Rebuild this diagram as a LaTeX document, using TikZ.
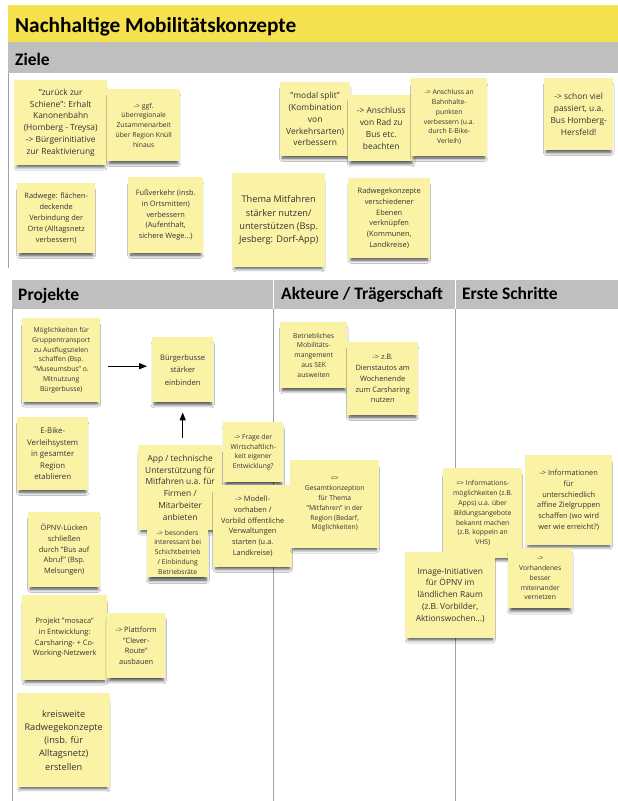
\documentclass[tikz,border=0pt]{standalone}
\usepackage{fontspec}
\setmainfont{Open Sans}
\newfontfamily\hdfont{Carlito}
\usetikzlibrary{shadows.blur,arrows.meta}
\definecolor{stick}{HTML}{FAF3A6}
\definecolor{titley}{HTML}{F5E14E}
\definecolor{bandg}{HTML}{BFBFBF}
\definecolor{txt}{HTML}{333333}
\definecolor{linec}{HTML}{A0A0A0}
\begin{document}
\begin{tikzpicture}[x=1pt,y=-1pt,
 stk/.style={anchor=north west, fill=stick, inner sep=1pt, align=center, text=txt,
   blur shadow={shadow xshift=0pt,shadow yshift=-5pt,shadow scale=0.93,shadow opacity=75,shadow blur radius=3.5pt,shadow blur steps=6}},
 sz/.style 2 args={minimum width=#1pt, minimum height=#2pt},
 fa/.style={font=\fontsize{6.8}{9.8}\selectfont},
 fb/.style={font=\fontsize{7.4}{10.8}\selectfont},
 fc/.style={font=\fontsize{8.4}{11.8}\selectfont},
 fd/.style={font=\fontsize{9.2}{13.2}\selectfont},
 hd/.style={font=\hdfont\bfseries\fontsize{17.5}{20}\selectfont, anchor=base west, text=black, inner sep=0pt},
 arr/.style={-{Triangle[length=8pt,width=6pt]}, line width=1.3pt, black}
]
\useasboundingbox (0,0) rectangle (618,801);
\fill[white] (0,0) rectangle (618,801);
% title and bands
\fill[titley] (8,5) rectangle (618,42);
\fill[bandg] (8,42) rectangle (618,73);
\draw[linec, line width=0.8pt] (8,73) -- (8,268);
\fill[bandg] (12,280) rectangle (618,309);
\draw[linec, line width=0.8pt] (12,309) -- (12,801);
\draw[linec, line width=0.8pt] (273,309) -- (273,801);
\draw[linec, line width=0.8pt] (455,309) -- (455,801);
\draw[white, line width=0.8pt] (273,280) -- (273,309);
\draw[white, line width=0.8pt] (455,280) -- (455,309);
\node[hd, font=\hdfont\bfseries\fontsize{21.3}{24}\selectfont] (title) at (15,32) {Nachhaltige Mobilitätskonzepte};
\node[hd] (hziele) at (15,65) {Ziele};
\node[hd] (hproj) at (18,300) {Projekte};
\node[hd] (hakt) at (281,299) {Akteure / Trägerschaft};
\node[hd] (hschr) at (462,299) {Erste Schritte};
% Ziele
\node[stk,fc,sz={93}{85}] (s1) at (14,80) {"zurück zur\\Schiene": Erhalt\\Kanonenbahn\\(Homberg - Treysa)\\-> Bürgerinitiative\\zur Reaktivierung};
\node[stk,fa,sz={73}{72}] (s2) at (107,89) {-> ggf.\\überregionale\\Zusammenarbeit\\über Region Knüll\\hinaus};
\node[stk,fc,sz={70}{74}] (s3) at (280,82) {"modal split"\\(Kombination\\von\\Verkehrsarten)\\verbessern};
\node[stk,fc,sz={66}{66}] (s4) at (348,95) {-> Anschluss\\von Rad zu\\Bus etc.\\beachten};
\node[stk,fa,sz={76}{78}] (s5) at (411,78) {-> Anschluss an\\Bahnhalte-\\punkten\\verbessern (u.a.\\durch E-Bike-\\Verleih)};
\node[stk,fc,sz={69}{72}] (s6) at (544,78) {-> schon viel\\passiert, u.a.\\Bus Homberg-\\Hersfeld!};
\node[stk,fb,sz={78}{70}] (s7) at (17,183) {Radwege: flächen-\\deckende\\Verbindung der\\Orte (Alltagsnetz\\verbessern)};
\node[stk,fb,sz={75}{76}] (s8) at (128,177) {Fußverkehr (insb.\\in Ortsmitten)\\verbessern\\(Aufenthalt,\\sichere Wege...)};
\node[stk,fd,sz={93}{94}] (s9) at (232,173) {Thema Mitfahren\\stärker nutzen/\\unterstützen (Bsp.\\Jesberg: Dorf-App)};
\node[stk,fb,sz={82}{80}] (s10) at (348,178) {Radwegekonzepte\\verschiedener\\Ebenen\\verknüpfen\\(Kommunen,\\Landkreise)};
% Projekte
\node[stk,fa,sz={78}{84}] (s11) at (22,318) {Möglichkeiten für\\Gruppentransport\\zu Ausflugszielen\\schaffen (Bsp.\\"Museumsbus" o.\\Mitnutzung\\Bürgerbusse)};
\node[stk,fb,sz={61}{65},font=\fontsize{7.6}{12.5}\selectfont] (s12) at (152,337) {Bürgerbusse\\stärker\\einbinden};
\node[stk,fb,sz={71}{73},font=\fontsize{7.8}{11.5}\selectfont] (s13) at (17,417) {E-Bike-\\Verleihsystem\\in gesamter\\Region\\etablieren};
\node[stk,fb,sz={72}{75}] (s14) at (28,512) {ÖPNV-Lücken\\schließen\\durch "Bus auf\\Abruf" (Bsp.\\Melsungen)};
\node[stk,fc,sz={84}{85}] (s15) at (138,445) {App / technische\\Unterstützung für\\Mitfahren u.a. für\\Firmen /\\Mitarbeiter\\anbieten};
\node[stk,fa,sz={60}{60}] (s16) at (223,422) {-> Frage der\\Wirtschaftlich-\\keit eigener\\Entwicklung?};
\node[stk,fb,sz={79}{82}] (s17) at (213,485) {-> Modell-\\vorhaben /\\Vorbild öffentliche\\Verwaltungen\\starten (u.a.\\Landkreise)};
\node[stk,fa,sz={61}{50}] (s18) at (147,527) {-> besonders\\interessant bei\\Schichtbetrieb\\/ Einbindung\\Betriebsräte};
\node[stk,fb,sz={85}{85}] (s19) at (22,595) {Projekt "mosaca"\\in Entwicklung:\\Carsharing- + Co-\\Working-Netzwerk};
\node[stk,fb,sz={58}{65}] (s20) at (107,613) {-> Plattform\\"Clever-\\Route"\\ausbauen};
\node[stk,fd,sz={93}{94}] (s21) at (17,693) {kreisweite\\Radwegekonzepte\\(insb. für\\Alltagsnetz)\\erstellen};
\draw[arr, shorten <=8pt, shorten >=5pt] ([yshift=-6pt]s11.east) -- ([yshift=-6pt]s11.east -| s12.west);
\draw[arr, shorten <=7pt, shorten >=10pt] (s15.north -| s12.south) -- (s12.south);
% Akteure
\node[stk,fa,sz={67}{66}] (s22) at (280,322) {Betriebliches\\Mobilitäts-\\mangement\\aus SEK\\ausweiten};
\node[stk,fb,sz={71}{73}] (s23) at (347,342) {-> z.B.\\Dienstautos am\\Wochenende\\zum Carsharing\\nutzen};
\node[stk,fa,sz={89}{88}] (s24) at (290,460) {=>\\Gesamtkonzeption\\für Thema\\"Mitfahren" in der\\Region (Bedarf,\\Möglichkeiten)};
% Erste Schritte
\node[stk,fa,sz={79}{90}] (s25) at (443,468) {=> Informations-\\möglichkeiten (z.B.\\Apps) u.a. über\\Bildungsangebote\\bekannt machen\\(z.B. koppeln an\\VHS)};
\node[stk,fb,sz={87}{90}] (s26) at (525,455) {-> Informationen\\für\\unterschiedlich\\affine Zielgruppen\\schaffen (wo wird\\wer wie erreicht?)};
\node[stk,fa,sz={64}{60}] (s27) at (508,548) {->\\Vorhandenes\\besser\\miteinander\\vernetzen};
\node[stk,fc,sz={90}{86}] (s28) at (405,552) {Image-Initiativen\\für ÖPNV im\\ländlichen Raum\\(z.B. Vorbilder,\\Aktionswochen...)};
\end{tikzpicture}
\end{document}
